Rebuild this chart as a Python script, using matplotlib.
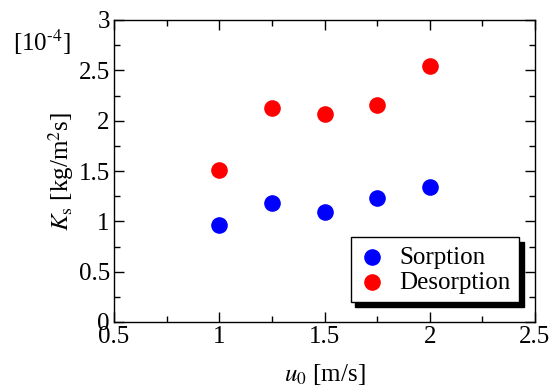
import numpy as np
import matplotlib
matplotlib.use('Agg')
import matplotlib.pyplot as plt
from matplotlib.ticker import MultipleLocator, FuncFormatter

# data
u0 = [1.0, 1.25, 1.5, 1.75, 2.0]
ks_sorption = [0.96, 1.18, 1.09, 1.23, 1.34]
ks_desorption = [1.51, 2.13, 2.07, 2.16, 2.54]

plt.rcParams['font.family'] = ['Liberation Serif', 'DejaVu Serif']
plt.rcParams['mathtext.fontset'] = 'stix'
plt.rcParams['font.size'] = 18

fig = plt.figure(figsize=(5.56, 3.91), dpi=100)
ax = fig.add_axes([114 / 556, 1 - 322 / 391, (535 - 114) / 556, (322 - 20) / 391])

ax.scatter(u0, ks_sorption, s=120, color='#0000ff', label='Sorption', zorder=3)
ax.scatter(u0, ks_desorption, s=120, color='#ff0000', label='Desorption', zorder=3)

ax.set_xlim(0.5, 2.5)
ax.set_ylim(0, 3)
ax.xaxis.set_major_locator(MultipleLocator(0.5))
ax.xaxis.set_minor_locator(MultipleLocator(0.25))
ax.yaxis.set_major_locator(MultipleLocator(0.5))
ax.yaxis.set_minor_locator(MultipleLocator(0.25))
ax.xaxis.set_major_formatter(FuncFormatter(lambda v, p: '%g' % v))
ax.yaxis.set_major_formatter(FuncFormatter(lambda v, p: '%g' % v))
ax.tick_params(which='both', direction='in', top=True, right=True, width=1)
ax.tick_params(which='major', length=7, pad=3)
ax.tick_params(which='minor', length=4)
for sp in ax.spines.values():
    sp.set_linewidth(1)

ax.set_xlabel(r'$u_0$ [m/s]', labelpad=10)
ax.set_ylabel(r'$K_\mathrm{s}$ [kg/m$^2$s]', labelpad=2)
fig.text(42 / 556, 1 - 42 / 391, r'[10$^{\text{-}4}$]', ha='center', va='center')

# legend box roughly x 355-520, y 240-302 px
leg = ax.legend(loc='lower right', bbox_to_anchor=(0.963, 0.065), fancybox=False,
                edgecolor='black', framealpha=1, handletextpad=0.6, borderpad=0.35,
                labelspacing=0.1, handlelength=1.0, borderaxespad=0,
                shadow={'color': 'black', 'alpha': 1, 'ox': 3, 'oy': -3})
leg.get_frame().set_linewidth(1)

plt.savefig('out.png', dpi=100)
